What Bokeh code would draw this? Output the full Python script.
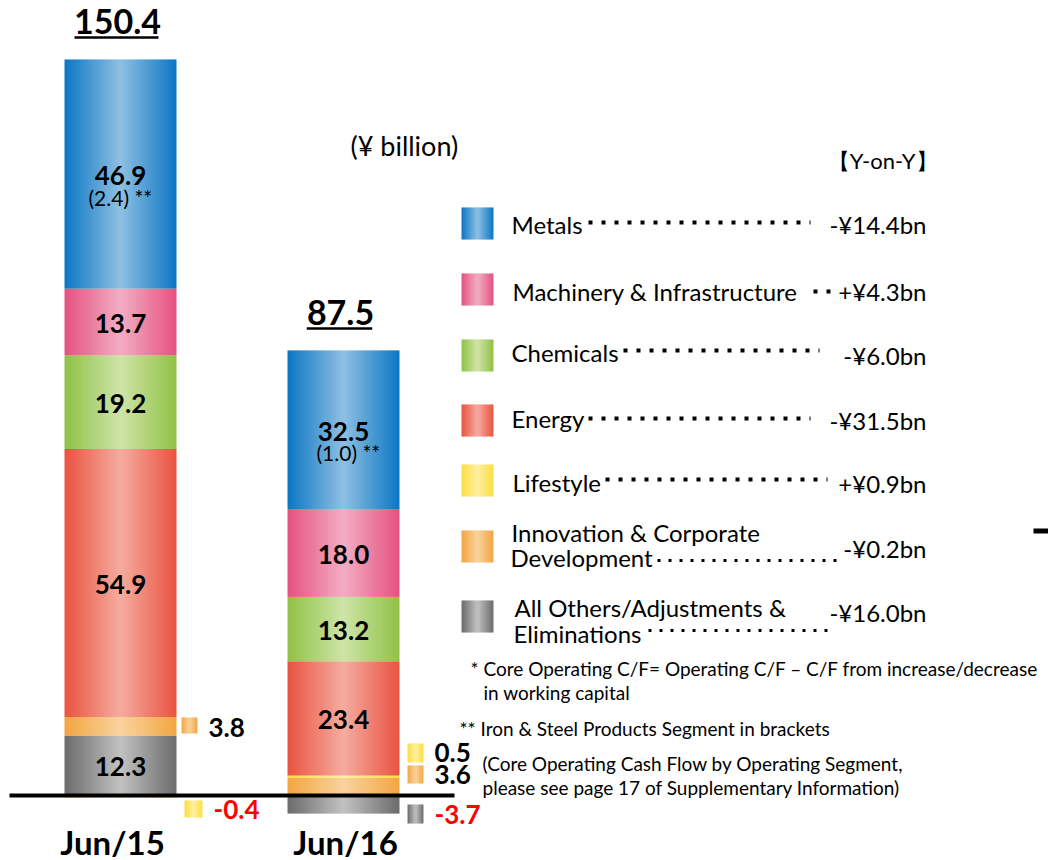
import numpy as np
from bokeh.plotting import figure
from bokeh.models import Range1d, ColumnDataSource
from bokeh.core.properties import value
from bokeh.embed import file_html
from bokeh.resources import INLINE

# ---------------- data ----------------
categories = ["Jun/15", "Jun/16"]
metals = [46.9, 32.5]
machinery = [13.7, 18.0]
chemicals = [19.2, 13.2]
energy = [54.9, 23.4]
lifestyle = [-0.4, 0.5]
innovation = [3.8, 3.6]
others = [12.3, -3.7]
totals = [150.4, 87.5]
iron_steel = [2.4, 1.0]
segment_names = ["Metals", "Machinery & Infrastructure", "Chemicals", "Energy",
                 "Lifestyle", "Innovation & Corporate Development",
                 "All Others/Adjustments & Eliminations"]
legend_lines = [["Metals"], ["Machinery & Infrastructure"], ["Chemicals"], ["Energy"],
                ["Lifestyle"], ["Innovation & Corporate", "Development"],
                ["All Others/Adjustments &", "Eliminations"]]
yoy_change = ["-¥14.4bn", "+¥4.3bn", "-¥6.0bn", "-¥31.5bn", "+¥0.9bn", "-¥0.2bn", "-¥16.0bn"]
unit_label = "(¥ billion)"
yoy_title = "【Y-on-Y】"
footnotes = ["* Core Operating C/F= Operating C/F \u2013 C/F from increase/decrease",
             "in working capital",
             "** Iron & Steel Products Segment in brackets",
             "(Core Operating Cash Flow by Operating Segment,",
             "please see page 17 of Supplementary Information)"]

series = [metals, machinery, chemicals, energy, lifestyle, innovation, others]

# ---------------- style / layout ----------------
colors = [("#0b76c3", "#8fc0e3"),   # metals (edge, centre)
          ("#e4527f", "#f3adc4"),   # machinery
          ("#8fc245", "#cfe4a8"),   # chemicals
          ("#e95340", "#f5aca0"),   # energy
          ("#fedd3f", "#fef0a2"),   # lifestyle
          ("#f2a641", "#f9d39e"),   # innovation
          ("#6b6b6b", "#c2c2c2")]   # others

W, H = 1048, 860
BASE_Y = 795.0
PXU = 4.88
FONT = value("Lato")


def v(img_y):
    return (BASE_Y - img_y) / PXU


def dv(px):
    return px / PXU


def hex2rgb(h):
    h = h.lstrip("#")
    return np.array([int(h[i:i + 2], 16) for i in (0, 2, 4)], dtype=float)


def mix(c_edge, c_center, t):
    a, b = hex2rgb(c_edge), hex2rgb(c_center)
    c = b * (1 - t) + a * t
    return "#%02x%02x%02x" % tuple(int(round(x)) for x in c)


strips = dict(left=[], right=[], bottom=[], top=[], color=[])


def gradient(left, right, bottom, top, edge, center, n):
    w = (right - left) / n
    for i in range(n):
        t = abs((i + 0.5) / n * 2 - 1)
        strips["left"].append(left + i * w)
        strips["right"].append(left + (i + 1) * w + (0.6 if i < n - 1 else 0))
        strips["bottom"].append(bottom)
        strips["top"].append(top)
        strips["color"].append(mix(edge, center, t))


p = figure(width=W, height=H, x_range=Range1d(0, W),
           y_range=Range1d(v(H), v(0)), output_backend="svg",
           toolbar_location=None, min_border=0, x_axis_location=None,
           y_axis_location=None, outline_line_color=None,
           background_fill_color="white", border_fill_color="white")
p.grid.visible = False

BAR_X = [120, 343]
BAR_W = 112

lab = dict(x=[], y=[], text=[])
sub = dict(x=[], y=[], text=[])
tops = []
for ci in range(len(categories)):
    pos, neg = 0.0, 0.0
    cx = BAR_X[ci]
    for si in reversed(range(len(series))):
        val = series[si][ci]
        if val >= 0:
            b, t = pos, pos + val
            pos = t
        else:
            t, b = neg, neg + val
            neg = b
        gradient(cx - BAR_W / 2, cx + BAR_W / 2, b, t, colors[si][0], colors[si][1], 56)
        if abs(val) >= 10:
            mid = (b + t) / 2
            lab["x"].append(cx)
            lab["y"].append(mid - dv(1.5))
            lab["text"].append("%.1f" % val)
            if si == 0:
                sub["x"].append(cx - 32 + (0 if ci == 0 else 5))
                sub["y"].append(mid - dv(23))
                sub["text"].append("(%.1f) **" % iron_steel[ci])
    tops.append(pos)

# legend swatches
SW_X = 461
SW_TOP = [207, 273, 339, 404, 464, 530, 600]
for si in range(len(series)):
    gradient(SW_X, SW_X + 32, v(SW_TOP[si] + 32), v(SW_TOP[si]), colors[si][0], colors[si][1], 16)

# side swatches for small segments: (category, series index, swatch l, r, top, bottom, text x, text y)
side = [(0, 5, 181, 197, 717, 733, 208, 727),
        (0, 4, 184, 202, 800, 817, 213, 809),
        (1, 4, 407, 423, 743, 762, 434, 752),
        (1, 5, 407, 423, 765, 783, 434, 774),
        (1, 6, 407, 423, 804, 823, 434, 814)]
side_txt = dict(x=[], y=[], text=[], color=[])
for ci, si, l, r, tp, bt, tx, ty in side:
    gradient(l, r, v(bt), v(tp), colors[si][0], colors[si][1], 8)
    val = series[si][ci]
    side_txt["x"].append(tx)
    side_txt["y"].append(v(ty))
    side_txt["text"].append("%.1f" % val)
    side_txt["color"].append("#ff0000" if val < 0 else "#000000")

src = ColumnDataSource(strips)
p.quad(left="left", right="right", bottom="bottom", top="top", source=src,
       fill_color="color", line_color=None)

# baseline
p.segment(x0=[9], x1=[454], y0=[0], y1=[0], line_color="black", line_width=4)
# stray mark at right edge
p.quad(left=[1033], right=[1048], bottom=[v(533)], top=[v(528)], fill_color="black", line_color=None)

# bar labels
p.text(x="x", y="y", text="text", source=ColumnDataSource(lab), text_font=FONT,
       text_font_size="26px", text_font_style="bold", text_align="center",
       text_baseline="middle", text_color="black")
p.text(x="x", y="y", text="text", source=ColumnDataSource(sub), text_font=FONT,
       text_font_size="21px", text_align="left", text_baseline="middle", text_color="black")
p.text(x="x", y="y", text="text", text_color="color", source=ColumnDataSource(side_txt),
       text_font=FONT, text_font_size="26px", text_font_style="bold",
       text_align="left", text_baseline="middle")

# totals with underline
tot_txt = ["%.1f" % t for t in totals]
p.text(x=[c - 3 for c in BAR_X], y=[t + dv(38) for t in tops], text=tot_txt, text_font=FONT,
       text_font_size="34px", text_font_style="bold", text_align="center",
       text_baseline="middle", text_color="black")
half = [(sum(c.isdigit() for c in s) * 18.5 + 10) / 2 for s in tot_txt]
p.segment(x0=[BAR_X[i] - 4 - half[i] for i in range(2)], x1=[BAR_X[i] - 4 + half[i] for i in range(2)],
          y0=[t + dv(22) for t in tops], y1=[t + dv(22) for t in tops],
          line_color="black", line_width=2.5)

# category labels
p.text(x=[112, 345], y=[v(841)] * 2, text=categories, text_font=FONT,
       text_font_size="33px", text_font_style="bold", text_align="center",
       text_baseline="middle", text_color="black")

# unit + Y-on-Y header
p.text(x=[350], y=[v(145)], text=[unit_label], text_font=FONT, text_font_size="27px",
       text_align="left", text_baseline="middle", text_color="black")
p.text(x=[937], y=[v(160)], text=[yoy_title], text_font=FONT, text_font_size="22px",
       text_align="right", text_baseline="middle", text_color="black")

# legend text rows: (text x, [line ys], dots x0, x1, dots y, dot size, gap, value y)
rows = [(511, [224], (511,), 588, 810, 222, 4, 9, 224),
        (512, [291], (512,), 813, 831, 291, 4, 9, 291),
        (511, [352], (511,), 623, 819, 350, 4, 9, 355),
        (511, [418], (511,), 588, 810, 418, 4, 9, 420),
        (512, [482], (512,), 605, 827, 479, 4, 9, 483),
        (511, [532, 557], (511, 510), 657, 840, 560, 3, 8, 548),
        (514, [607, 633], (514, 513), 648, 829, 630, 3, 8, 612)]
lx, ly, lt = [], [], []
for si, (tx, tys, txs, d0, d1, dy, ds, dg, vy) in enumerate(rows):
    for k, line in enumerate(legend_lines[si]):
        lx.append(txs[k])
        ly.append(v(tys[k]))
        lt.append(line)
    p.segment(x0=[d0], x1=[d1], y0=[v(dy)], y1=[v(dy)], line_color="black",
              line_width=ds, line_dash="%d %d" % (ds, dg), line_cap="butt")
p.text(x=lx, y=ly, text=lt, text_font=FONT, text_font_size="24px", text_align="left",
       text_baseline="middle", text_color="black")
p.text(x=[926] * 7, y=[v(r[8]) for r in rows], text=yoy_change, text_font=FONT,
       text_font_size="24px", text_align="right", text_baseline="middle", text_color="black")

# footnotes
p.text(x=[470, 483, 459, 482, 482], y=[v(668), v(692), v(728), v(763), v(787)],
       text=footnotes, text_font=FONT, text_font_size="19px", text_align="left",
       text_baseline="middle", text_color="black")

open("out.html", "w").write(file_html(p, INLINE))
